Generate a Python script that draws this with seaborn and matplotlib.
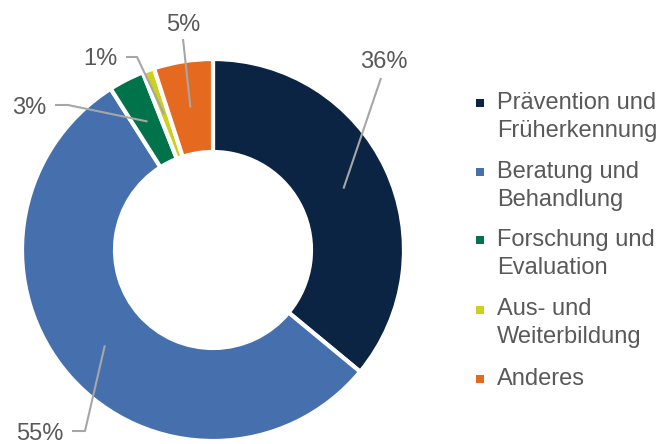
import numpy as np
import matplotlib
matplotlib.use("Agg")
import matplotlib.pyplot as plt
import seaborn as sns

categories = ["Prävention und\nFrüherkennung", "Beratung und\nBehandlung",
              "Forschung und\nEvaluation", "Aus- und\nWeiterbildung", "Anderes"]
values = [36, 55, 3, 1, 5]
labels = ["36%", "55%", "3%", "1%", "5%"]
colors = ["#0B2444", "#4670AD", "#00734A", "#CDD01C", "#E5691E"]

sns.set_theme(style="white")
plt.rcParams['font.family'] = ['Liberation Sans', 'DejaVu Sans']
pal = sns.color_palette(colors)

W, H = 662, 444
fig = plt.figure(figsize=(W / 100, H / 100), dpi=100)
ax = fig.add_axes([0, 0, 1, 1])

cx, cy, R = 213, H - 250, 191
wedges, _ = ax.pie(values, colors=pal, startangle=90, counterclock=False,
                   radius=R, center=(cx, cy),
                   wedgeprops=dict(width=93, edgecolor="white", linewidth=3))
ax.set_xlim(0, W)
ax.set_ylim(0, H)
ax.set_aspect("equal")
ax.axis("off")

txt_color = "#595959"
line_color = "#A6A6A6"

# label positions (image coords: x center, baseline) and leader elbows
label_pos = [(384, 68), (40, 440), (29, 114), (100, 65), (183, 31)]
leader_start = [[(381, 78)], [(72, 431), (85, 431)], [(55, 105), (68, 105)],
                [(126, 57), (137, 57)], [(183, 39)]]

for w, lab, pos, pts in zip(wedges, labels, label_pos, leader_start):
    mid = np.deg2rad((w.theta1 + w.theta2) / 2)
    ar = 0.755 * R
    anchor = (cx + ar * np.cos(mid), cy + ar * np.sin(mid))
    xs = [p[0] for p in pts] + [anchor[0]]
    ys = [H - p[1] for p in pts] + [anchor[1]]
    ax.plot(xs, ys, color=line_color, lw=1.5, solid_capstyle="butt")
    ax.text(pos[0], H - pos[1], lab, ha="center", va="baseline",
            fontsize=17, color=txt_color)

# legend (marker centre y in image coords; text baseline of last line)
leg_y = [103.5, 172.5, 240, 309.5, 378.5]
line_gap = 27
for cat, col, y in zip(categories, pal, leg_y):
    ax.scatter([480], [H - y], marker="s", s=30, color=col, linewidths=0)
    nl = cat.count("\n")
    ax.text(497, H - (y + 6.5 + nl * line_gap), cat, ha="left", va="baseline",
            fontsize=17, color=txt_color, linespacing=1.34)

fig.savefig("out.png", dpi=100)
